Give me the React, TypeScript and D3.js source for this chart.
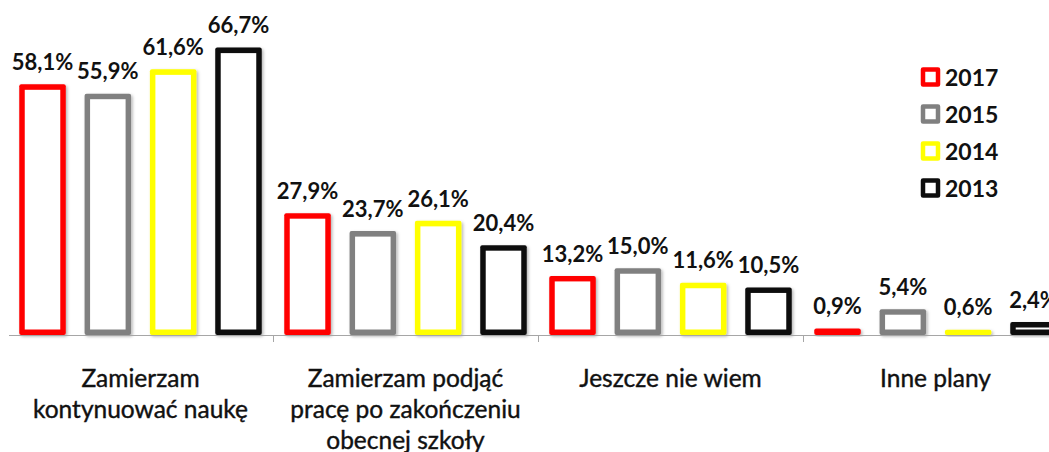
import React from 'react';
import * as d3 from 'd3';

const categories = ['Zamierzam kontynuować naukę', 'Zamierzam podjąć pracę po zakończeniu obecnej szkoły', 'Jeszcze nie wiem', 'Inne plany'];
const categoryLines = [
  ['Zamierzam', 'kontynuować naukę'],
  ['Zamierzam podjąć', 'pracę po zakończeniu', 'obecnej szkoły'],
  ['Jeszcze nie wiem'],
  ['Inne plany'],
];
const seriesNames = ['2017', '2015', '2014', '2013'];
const seriesColors = ['#FF0000', '#808080', '#FFFF00', '#0D0D0D'];
const values2017 = [58.1, 27.9, 13.2, 0.9];
const values2015 = [55.9, 23.7, 15.0, 5.4];
const values2014 = [61.6, 26.1, 11.6, 0.6];
const values2013 = [66.7, 20.4, 10.5, 2.4];
const seriesValues = [values2017, values2015, values2014, values2013];

const W = 1049;
const H = 452;
const baseY = 335;
const font = 'Lato, "Open Sans", sans-serif';

export default function App() {
  const x0 = d3.scaleBand<string>().domain(categories).range([8, 1068]).paddingInner(0).paddingOuter(0);
  const x1 = d3.scaleBand<string>().domain(seriesNames).range([14, 251]).paddingInner(0.372).paddingOuter(0);
  const y = d3.scaleLinear().domain([0, 78.5]).range([baseY, 0]);
  const fmt = (v: number) => v.toFixed(1).replace('.', ',') + '%';
  const sw = 5.5;

  return (
    <svg width={W} height={H} style={{ position: 'absolute', left: 0, top: 0, background: '#fff' }} fontFamily={font}>
      <defs>
        <filter id="shadow" x="-20%" y="-20%" width="140%" height="140%">
          <feDropShadow dx={1.5} dy={1.5} stdDeviation={1.5} floodColor="#000" floodOpacity={0.3} />
        </filter>
      </defs>
      <rect x={0} y={0} width={W} height={H} fill="#fff" />
      {categories.map((c, ci) => (
        <g key={c} transform={`translate(${x0(c)},0)`}>
          {seriesNames.map((s, si) => {
            const v = seriesValues[si][ci];
            const ox = x1(s)! - sw / 2;
            const ow = x1.bandwidth() + sw;
            const oy = y(v) - sw / 2;
            const oh = baseY - oy;
            const ih = oh - 2 * sw;
            return (
              <g key={s}>
                <rect x={ox} y={oy} width={ow} height={oh} rx={2} fill={seriesColors[si]} filter="url(#shadow)" />
                {ih > 0 && <rect x={ox + sw} y={oy + sw} width={ow - 2 * sw} height={ih} fill="#fff" />}
              </g>
            );
          })}
        </g>
      ))}
      <line x1={9} x2={W} y1={baseY + 0.5} y2={baseY + 0.5} stroke="#A6A6A6" strokeWidth={1} />
      {categories.slice(1).map((c) => (
        <line key={c} x1={Math.round(x0(c)!) + 0.5} x2={Math.round(x0(c)!) + 0.5} y1={baseY} y2={baseY + 7} stroke="#A6A6A6" strokeWidth={1} />
      ))}
      {categories.map((c, ci) => (
        <g key={c + 'lbl'} transform={`translate(${x0(c)},0)`}>
          {seriesNames.map((s, si) => {
            const v = seriesValues[si][ci];
            return (
              <text key={s} x={x1(s)! + x1.bandwidth() / 2} y={y(v) - 17} textAnchor="middle" fontSize={22} fontWeight={700} fill="#111">
                {fmt(v)}
              </text>
            );
          })}
          {categoryLines[ci].map((line, li) => (
            <text key={li} x={x0.bandwidth() / 2} y={387 + li * 31} textAnchor="middle" fontSize={24.5} fill="#111" stroke="#111" strokeWidth={0.4}>
              {line}
            </text>
          ))}
        </g>
      ))}
      {seriesNames.map((s, si) => (
        <g key={s + 'leg'} transform={`translate(0,${77 + si * 37})`}>
          <rect x={923} y={-7.5} width={15} height={15} fill="#fff" stroke={seriesColors[si]} strokeWidth={4.5} strokeLinejoin="round" />
          <text x={945} y={8.5} fontSize={23} fontWeight={700} fill="#111">{s}</text>
        </g>
      ))}
    </svg>
  );
}
